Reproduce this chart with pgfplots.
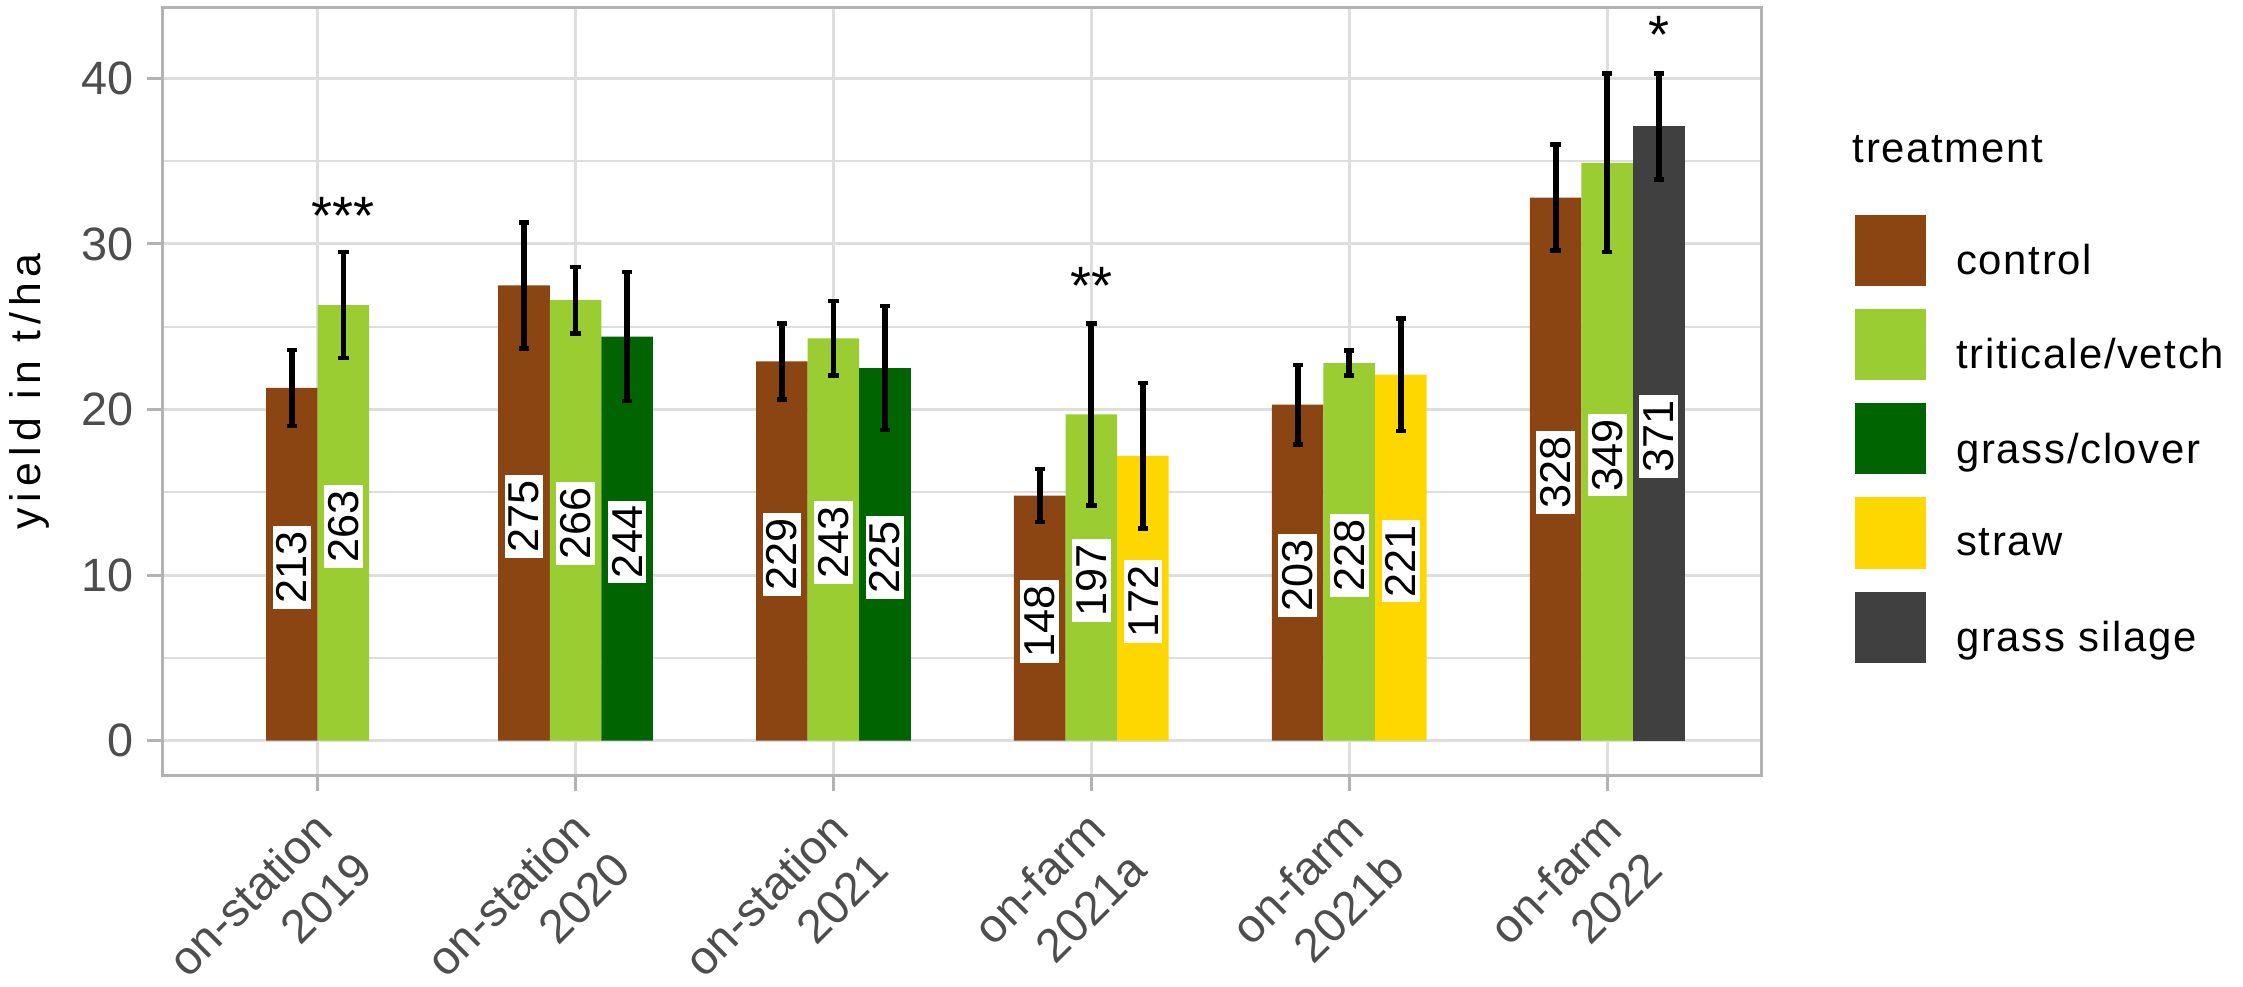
\documentclass[border=0pt]{standalone}
\usepackage{fontspec}
\setmainfont{Liberation Sans}
\newfontfamily\lsfont[LetterSpace=4]{Liberation Sans}
\newfontfamily\ttlfont[LetterSpace=14]{Liberation Sans}
\usepackage{pgfplots}
\usepackage{pgfplotstable}
\pgfplotsset{compat=1.18}
\definecolor{cControl}{HTML}{8B4513}
\definecolor{cTrit}{HTML}{9ACD32}
\definecolor{cGC}{HTML}{006400}
\definecolor{cStraw}{HTML}{FFD700}
\definecolor{cSil}{HTML}{404040}
\definecolor{grey87}{HTML}{DEDEDE}
\definecolor{grey70}{HTML}{B3B3B3}
\definecolor{grey30}{HTML}{4D4D4D}

\pgfplotstableread{
x y e
0.9 21.3 2.3
1.8 27.5 3.8
2.8 22.9 2.3
3.8 14.8 1.6
4.8 20.3 2.4
5.8 32.8 3.2
}\tctrl
\pgfplotstableread{
x y e
1.1 26.3 3.2
2.0 26.6 2.0
3.0 24.3 2.25
4.0 19.7 5.5
5.0 22.8 0.76
6.0 34.9 5.4
}\ttrit
\pgfplotstableread{
x y e
2.2 24.4 3.9
3.2 22.5 3.75
}\tgc
\pgfplotstableread{
x y e
4.2 17.2 4.4
5.2 22.1 3.4
}\tstraw
\pgfplotstableread{
x y e
6.2 37.1 3.2
}\tsil
\pgfplotstableread{
x y lab
0.9 21.3 213
1.1 26.3 263
1.8 27.5 275
2.0 26.6 266
2.2 24.4 244
2.8 22.9 229
3.0 24.3 243
3.2 22.5 225
3.8 14.8 148
4.0 19.7 197
4.2 17.2 172
4.8 20.3 203
5.0 22.8 228
5.2 22.1 221
5.8 32.8 328
6.0 34.9 349
6.2 37.1 371
}\tlab
\pgfplotstableread{
x y lab
1.1 30.55 ***
4.0 26.36 **
6.2 41.49 *
}\tstar

\pgfplotsset{
  mybar/.style={ybar, bar width=0.2, bar shift=0pt, draw=none, fill=#1,
    error bars/.cd, y dir=both, y explicit,
    error bar style={line width=1.3pt, black},
    error mark=-,
    error mark options={rotate=90, line width=1pt, mark size=1.15pt, black}},
}

\begin{document}
\begin{tikzpicture}
\begin{axis}[
  name=ax,
  scale only axis, width=355.3pt, height=170.7pt,
  xmin=0.4, xmax=6.6, ymin=-2.1, ymax=44.3,
  xtick={1,2,3,4,5,6},
  xticklabels={{on-station\\2019},{on-station\\2020},{on-station\\2021},{on-farm\\2021a},{on-farm\\2021b},{on-farm\\2022}},
  ytick={0,10,20,30,40},
  yticklabels={0,10,20,30,40},
  minor ytick={5,15,25,35},
  xmajorgrids, ymajorgrids, yminorgrids,
  major grid style={color=grey87, line width=0.65pt},
  minor grid style={color=grey87, line width=0.4pt},
  axis line style={color=grey70, line width=0.65pt},
  tick style={color=grey70, line width=0.65pt},
  tick align=outside, tick pos=left,
  major tick length=3.5pt, minor tick length=0pt,
  xticklabel style={font=\fontsize{10.5}{12.6}\selectfont, text=grey30, align=right, xshift=-1.5pt, yshift=-3.5pt, rotate=45, anchor=north east, inner sep=0pt},
  yticklabel style={font=\fontsize{10.4}{12}\selectfont, text=grey30, anchor=east, inner sep=0pt, xshift=-2.9pt},
  ylabel={yield in t/ha},
  every axis y label/.style={at={(axis description cs:0,0.5)}, xshift=-27.3pt, rotate=90, anchor=base, font=\ttlfont\fontsize{9.5}{11}\selectfont},
  clip=false,
  legend style={at={(1.0583,0.730)}, anchor=north west, draw=none, fill=none, inner sep=0pt, outer sep=0pt,
    row sep=5.15pt, column sep=6.7pt, font=\lsfont\fontsize{9.3}{11}\selectfont,
    nodes={inner sep=0pt}},
  legend cell align=left,
  legend image code/.code={\path[#1] (0pt,-5.1pt) rectangle (15.8pt,10.7pt);},
]
\addplot[mybar=cControl] table[x=x, y=y, y error=e] {\tctrl};
\addlegendentry{control}
\addplot[mybar=cTrit] table[x=x, y=y, y error=e] {\ttrit};
\addlegendentry{triticale/vetch}
\addplot[mybar=cGC] table[x=x, y=y, y error=e] {\tgc};
\addlegendentry{grass/clover}
\addplot[mybar=cStraw] table[x=x, y=y, y error=e] {\tstraw};
\addlegendentry{straw}
\addplot[mybar=cSil] table[x=x, y=y, y error=e] {\tsil};
\addlegendentry{grass silage}
\addplot[draw=none, forget plot, nodes near coords, point meta=explicit symbolic,
  nodes near coords style={rotate=90, anchor=center, fill=white, inner xsep=1.2pt, inner ysep=0.9pt, font=\fontsize{9.6}{11.5}\selectfont, text=black}]
  table[x=x, y expr=\thisrow{y}/2-0.2, meta=lab] {\tlab};
\addplot[draw=none, forget plot, nodes near coords, point meta=explicit symbolic,
  nodes near coords style={anchor=base, inner sep=0pt, font=\fontsize{12}{14}\selectfont, text=black}]
  table[x=x, y=y, meta=lab] {\tstar};
\end{axis}
\node[anchor=base west, inner sep=0pt, font=\lsfont\fontsize{9.3}{11}\selectfont] at ([xshift=375.3pt, yshift=-34.53pt]ax.north west) {treatment};
\pgfresetboundingbox
\useasboundingbox ([xshift=-36.2pt, yshift=-46.8pt]ax.south west) rectangle ++(498.4pt,219.1pt);
\end{tikzpicture}
\end{document}
